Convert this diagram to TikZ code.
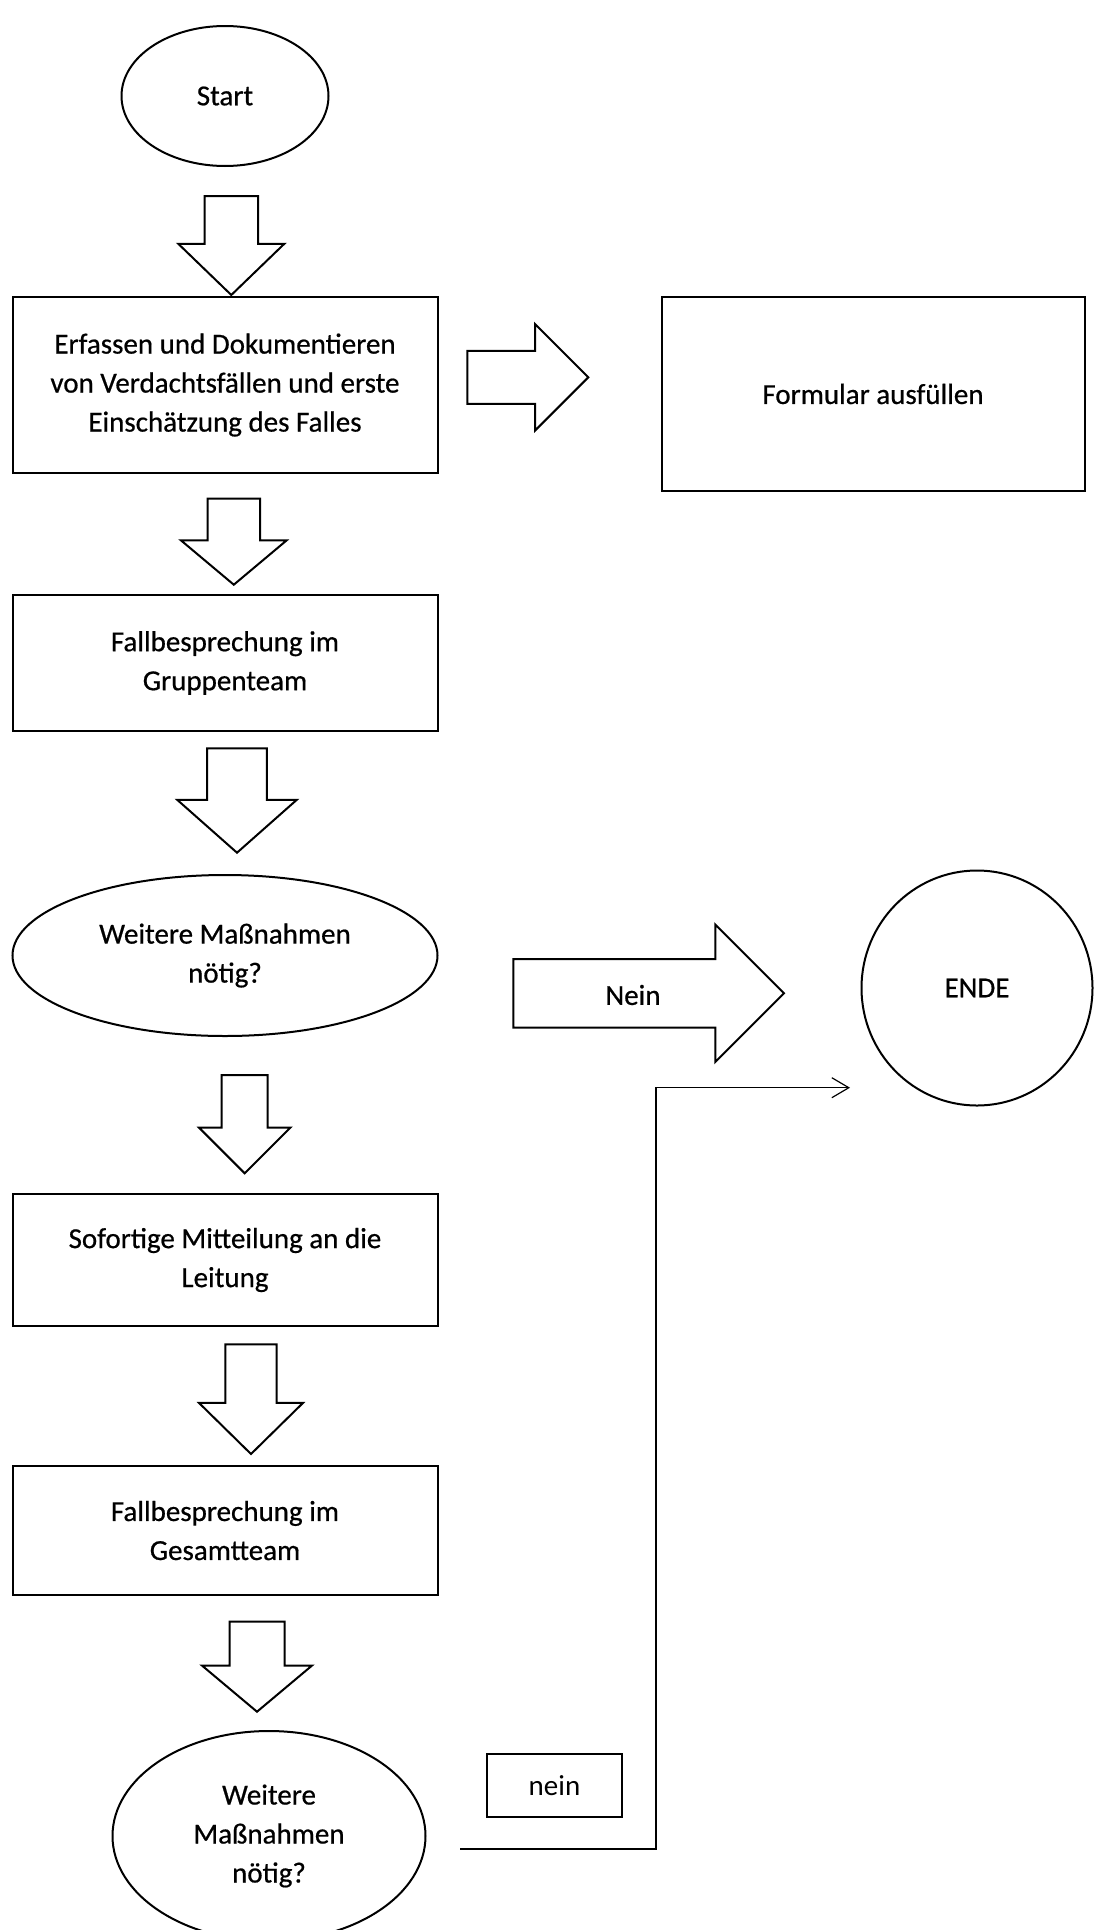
\documentclass[tikz,border=0pt]{standalone}
\usepackage{fontspec}
\setmainfont{Carlito}
\newfontfamily\shadowfont[FakeBold=0.6]{Carlito}
\usetikzlibrary{shapes.geometric, shapes.arrows, positioning, arrows.meta}

\begin{document}
\begin{tikzpicture}[x=1pt, y=1pt]
    % Default look for each node
    \tikzstyle{every node}=[draw, line width=2pt, outer sep=0pt, align=center,
        font=\shadowfont\fontsize{29}{39}\selectfont];
    \tikzstyle{box}=[rectangle, minimum width=425pt];
    \tikzstyle{oval}=[ellipse, inner sep=0pt];
    \tikzstyle{blockarrow}=[single arrow];
    \tikzstyle{downarrow}=[blockarrow, rotate=-90, anchor=tip];
    \useasboundingbox (0,0) rectangle (1093,-1930);

    % Main column, top to bottom
    \node [oval, minimum width=207pt, minimum height=140pt] (start) at (225,-96) {Start};
    \node [box, minimum height=176pt] (erfassen) [below=131pt of start]
        {Erfassen und Dokumentieren\\von Verdachtsfällen und erste\\Einschätzung des Falles};
    \node [box, minimum height=136pt] (gruppe) [below=122pt of erfassen]
        {Fallbesprechung im\\Gruppenteam};
    \node [oval, minimum width=425pt, minimum height=161pt] (frage1) [below=144pt of gruppe]
        {Weitere Maßnahmen\\nötig?};
    \node [box, minimum height=132pt] (leitung) [below=158pt of frage1]
        {Sofortige Mitteilung an die\\Leitung};
    \node [box, minimum height=129pt] (gesamt) [below=140pt of leitung]
        {Fallbesprechung im\\Gesamtteam};
    \node [oval, minimum width=313pt, minimum height=210pt] (frage2) [below=136pt of gesamt, xshift=44pt]
        {Weitere\\Maßnahmen\\nötig?};

    % Right hand side
    \node [box, minimum width=423pt, minimum height=194pt] (formular) at (873,-394) {Formular ausfüllen};
    \node [oval, minimum width=231pt, minimum height=235pt] (ende) at (977,-988) {ENDE};
    \node [box, minimum width=135pt, minimum height=63pt, font=\fontsize{29}{39}\selectfont]
        (nein) at (554.5,-1785.5) {nein};

    % Block arrows down the column
    \node [downarrow, minimum height=99pt, inner sep=25.75pt, single arrow head extend=26.25pt,
        single arrow tip angle=92] (a1) at (231.3,-295) {};
    \node [downarrow, minimum height=86pt, inner sep=25.3pt, single arrow head extend=26.5pt,
        single arrow tip angle=100] (a2) at (233.8,-584.7) {};
    \node [downarrow, minimum height=104.4pt, inner sep=28.85pt, single arrow head extend=29.85pt,
        single arrow tip angle=97] (a3) at (237,-852.7) {};
    \node [downarrow, minimum height=98.3pt, inner sep=22pt, single arrow head extend=22.65pt,
        single arrow tip angle=90] (a4) at (244.7,-1173.3) {};
    \node [downarrow, minimum height=109.7pt, inner sep=24.65pt, single arrow head extend=26.35pt,
        single arrow tip angle=91] (a5) at (251,-1454) {};
    \node [downarrow, minimum height=90pt, inner sep=26.5pt, single arrow head extend=27.35pt,
        single arrow tip angle=100] (a6) at (257,-1711.7) {};

    % Block arrows to the right
    \node [blockarrow, anchor=tail, minimum height=121pt, inner sep=25.5pt,
        single arrow head extend=26.65pt] (zuformular) at (467.3,-377.3) {};
    \node [blockarrow, anchor=tail, minimum height=270.7pt, inner sep=33.3pt,
        single arrow head extend=34.4pt] (zuende) at (513.3,-993.3) {};
    \node [draw=none] (neintext) at (633,-995) {Nein};

    % Thin connector from the last question to ENDE
    \coordinate (neinstart) at (460,-1849);
    \coordinate (neinend) at (850,-1087.7);
    \draw [line width=1.2pt, -{Straight Barb[length=17pt, width=20pt]}]
        (neinstart) -- ++(196,0) |- (neinend);
\end{tikzpicture}
\end{document}
